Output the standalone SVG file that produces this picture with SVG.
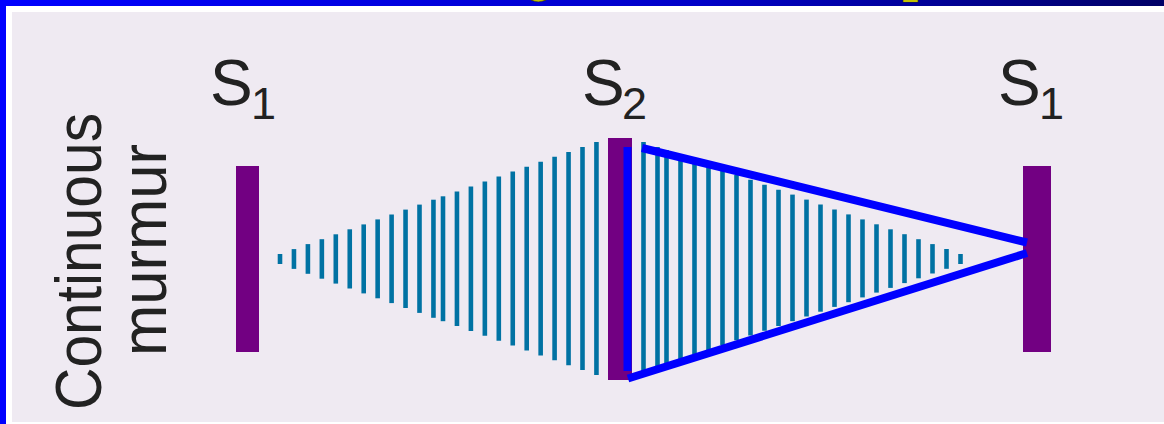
<svg xmlns="http://www.w3.org/2000/svg" width="1164" height="424" viewBox="0 0 1164 424">
<defs>
<linearGradient id="topband" x1="0" y1="0" x2="1" y2="0">
<stop offset="0" stop-color="#0000FF"/>
<stop offset="0.6" stop-color="#0000C8"/>
<stop offset="1" stop-color="#000066"/>
</linearGradient>
<style>
.lbl{font-family:"Liberation Sans",Arial,Helvetica,sans-serif;fill:#222222}
.big{font-size:64px}
.sub{font-size:45px}
.bar{fill:#720082}
.m line{stroke:#0072A3;stroke-width:4.6}
.hl{stroke:#0000FF;stroke-width:8;fill:none;stroke-linecap:butt}
</style>
</defs>
<rect x="0" y="0" width="1164" height="424" fill="#FFFFFF"/>
<rect x="12" y="12" width="1152" height="410" fill="#EFEAF2"/>
<rect x="0" y="0" width="1164" height="6" fill="url(#topband)"/>
<rect x="0" y="0" width="6" height="424" fill="#0000FF"/>
<g id="title-remnants" fill="#FFFF00" stroke="#333300" stroke-width="0.6">
<path d="M531 0 Q538 3.5 546 0 Z"/>
<rect x="903" y="0" width="15" height="2"/>
</g>
<g id="row-label">
<text class="lbl big" transform="translate(101,410) rotate(-90)" textLength="297" lengthAdjust="spacingAndGlyphs">Continuous</text>
<text class="lbl big" transform="translate(166,356) rotate(-90)" textLength="212" lengthAdjust="spacingAndGlyphs">murmur</text>
</g>
<g id="murmur-rising" class="m">
<line x1="280" y1="254" x2="280" y2="264"/>
<line x1="293.95" y1="249.1" x2="293.95" y2="268.9"/>
<line x1="307.9" y1="244.1" x2="307.9" y2="273.8"/>
<line x1="321.85" y1="239.2" x2="321.85" y2="278.7"/>
<line x1="335.8" y1="234.3" x2="335.8" y2="283.6"/>
<line x1="349.75" y1="229.3" x2="349.75" y2="288.5"/>
<line x1="363.7" y1="224.4" x2="363.7" y2="293.4"/>
<line x1="377.65" y1="219.4" x2="377.65" y2="298.3"/>
<line x1="391.6" y1="214.5" x2="391.6" y2="303.1"/>
<line x1="405.55" y1="209.6" x2="405.55" y2="308"/>
<line x1="419.5" y1="204.6" x2="419.5" y2="312.9"/>
<line x1="433.45" y1="199.7" x2="433.45" y2="317.8"/>
<line x1="443" y1="196.3" x2="443" y2="321.2"/>
<line x1="456.95" y1="191.4" x2="456.95" y2="326.1"/>
<line x1="470.9" y1="186.4" x2="470.9" y2="331"/>
<line x1="484.85" y1="181.5" x2="484.85" y2="335.8"/>
<line x1="498.8" y1="176.6" x2="498.8" y2="340.7"/>
<line x1="512.75" y1="171.6" x2="512.75" y2="345.6"/>
<line x1="526.7" y1="166.7" x2="526.7" y2="350.5"/>
<line x1="540.65" y1="161.8" x2="540.65" y2="355.4"/>
<line x1="554.6" y1="156.8" x2="554.6" y2="360.3"/>
<line x1="568.55" y1="151.9" x2="568.55" y2="365.2"/>
<line x1="582.5" y1="146.9" x2="582.5" y2="370.1"/>
<line x1="596.45" y1="142" x2="596.45" y2="375"/>
</g>
<g id="murmur-falling" class="m">
<line x1="643.5" y1="142" x2="643.5" y2="372"/>
<line x1="657.5" y1="147" x2="657.5" y2="367.2"/>
<line x1="666.5" y1="150.1" x2="666.5" y2="364.2"/>
<line x1="680.5" y1="155.1" x2="680.5" y2="359.4"/>
<line x1="694.5" y1="160" x2="694.5" y2="354.6"/>
<line x1="708.5" y1="165" x2="708.5" y2="349.9"/>
<line x1="722.5" y1="169.9" x2="722.5" y2="345.1"/>
<line x1="736.5" y1="174.9" x2="736.5" y2="340.3"/>
<line x1="750.5" y1="179.8" x2="750.5" y2="335.6"/>
<line x1="764.5" y1="184.8" x2="764.5" y2="330.8"/>
<line x1="778.5" y1="189.7" x2="778.5" y2="326"/>
<line x1="792.5" y1="194.6" x2="792.5" y2="321.2"/>
<line x1="806.5" y1="199.6" x2="806.5" y2="316.5"/>
<line x1="820.5" y1="204.5" x2="820.5" y2="311.7"/>
<line x1="834.5" y1="209.5" x2="834.5" y2="306.9"/>
<line x1="848.5" y1="214.4" x2="848.5" y2="302.2"/>
<line x1="862.5" y1="219.4" x2="862.5" y2="297.4"/>
<line x1="876.5" y1="224.3" x2="876.5" y2="292.6"/>
<line x1="890.5" y1="229.3" x2="890.5" y2="287.9"/>
<line x1="904.5" y1="234.2" x2="904.5" y2="283.1"/>
<line x1="918.5" y1="239.2" x2="918.5" y2="278.3"/>
<line x1="932.5" y1="244.1" x2="932.5" y2="273.5"/>
<line x1="946.5" y1="249" x2="946.5" y2="268.8"/>
<line x1="960.5" y1="254" x2="960.5" y2="264"/>
</g>
<g id="s1-left">
<rect class="bar" x="236" y="166" width="23" height="186"/>
<text class="lbl big" x="210" y="105">S<tspan class="sub" x="251" y="119">1</tspan></text>
</g>
<g id="s2">
<rect class="bar" x="608" y="138" width="24" height="242"/>
<text class="lbl big" x="582" y="105">S<tspan class="sub" x="622" y="119">2</tspan></text>
</g>
<g id="s1-right">
<rect class="bar" x="1023" y="166" width="28" height="186"/>
<text class="lbl big" x="998" y="105">S<tspan class="sub" x="1039" y="119">1</tspan></text>
</g>
<g id="connectors">
<line class="hl" x1="627.5" y1="147" x2="627.5" y2="371"/>
<line class="hl" x1="642" y1="148" x2="1027" y2="242.5"/>
<line class="hl" x1="628" y1="378.5" x2="1027" y2="253"/>
</g>
</svg>
